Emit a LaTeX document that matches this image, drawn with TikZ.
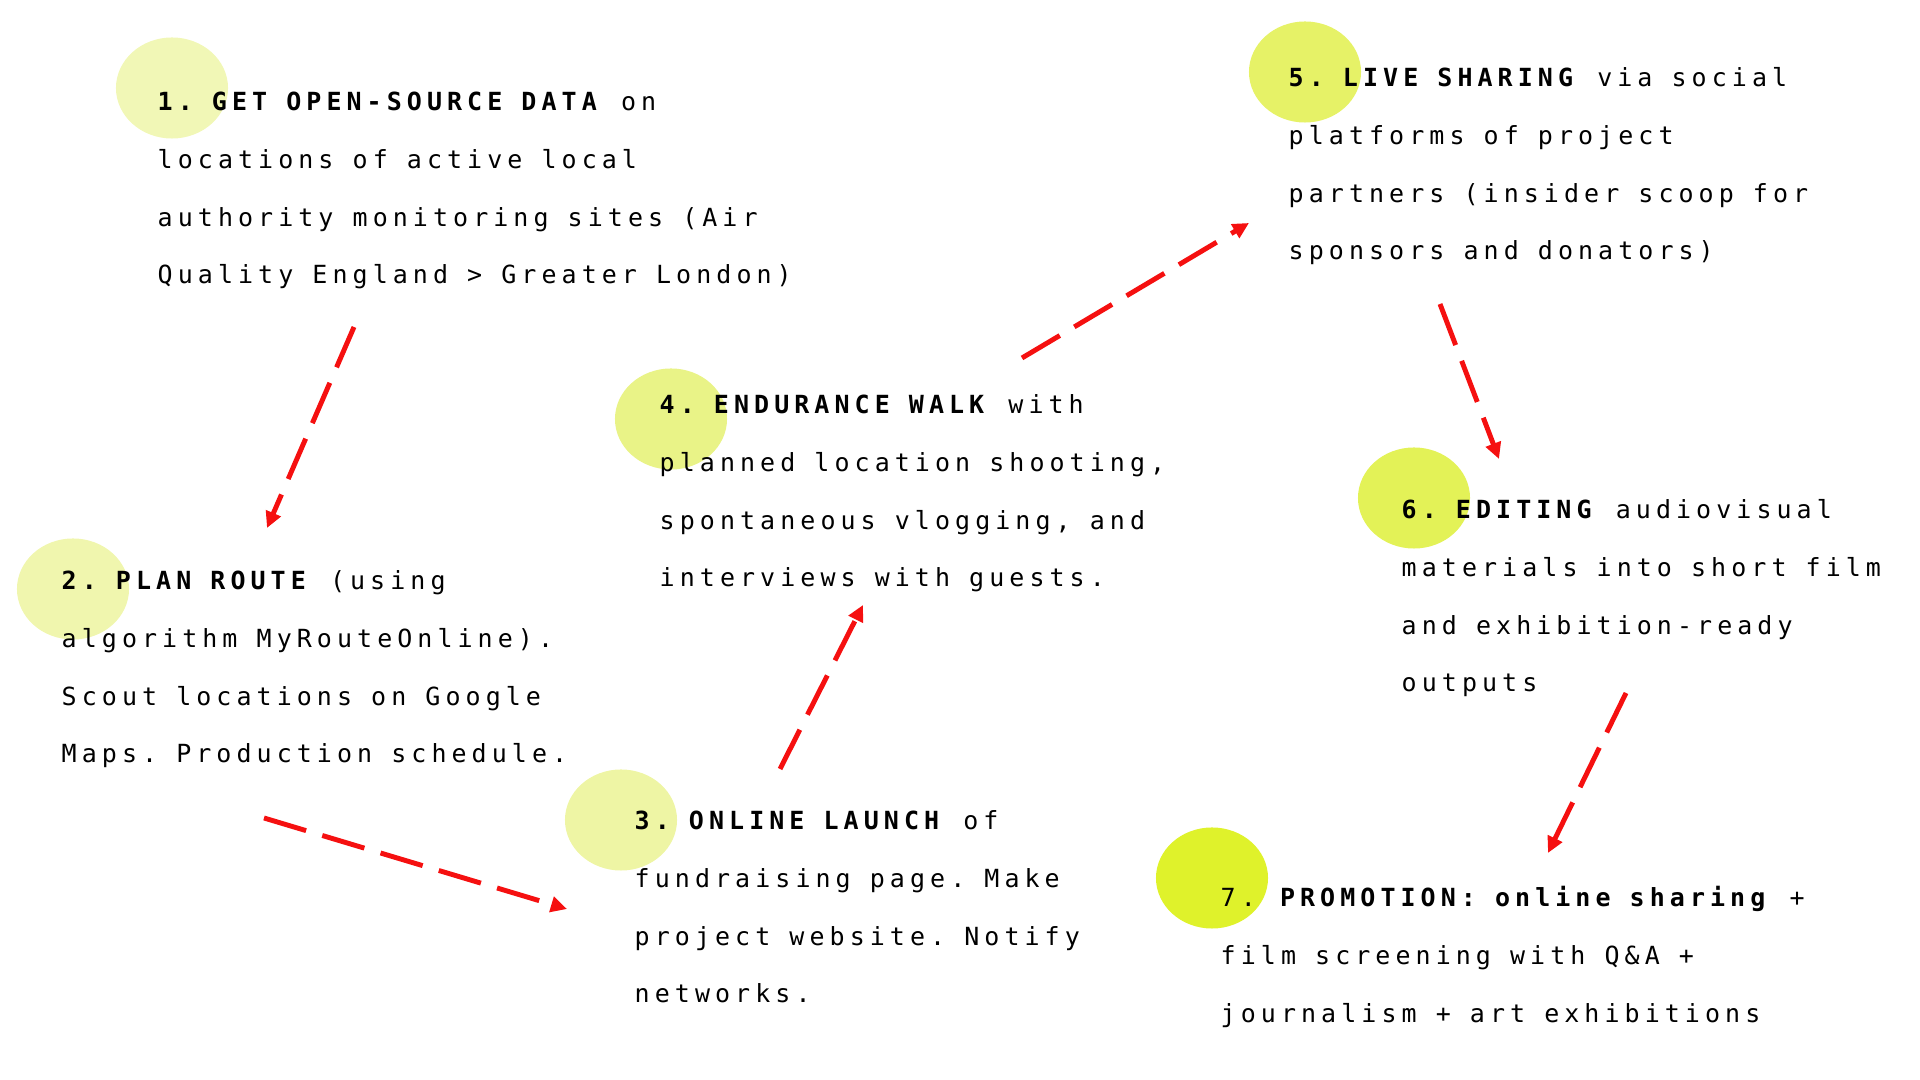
\documentclass[tikz,border=0pt]{standalone}
\usepackage{fontspec}
\usetikzlibrary{arrows.meta,shapes.geometric}
\newfontfamily\stepfont[LetterSpace=20.3]{DejaVu Sans Mono}
\newcommand\stepspacing{\spaceskip=5.44pt\relax\xspaceskip=5.44pt\relax}
\definecolor{dotA}{HTML}{F1F7B6}
\definecolor{dotB}{HTML}{F0F6AE}
\definecolor{dotC}{HTML}{EEF5A4}
\definecolor{dotD}{HTML}{E9F387}
\definecolor{dotE}{HTML}{E6F267}
\definecolor{dotF}{HTML}{E3F257}
\definecolor{dotG}{HTML}{DFF22B}
\definecolor{flow}{HTML}{F51010}
\tikzset{
  dot/.style={ellipse, minimum width=1.12cm, minimum height=1.01cm, inner sep=0pt, draw=none},
  steptext/.style={anchor=base west, inner sep=0pt, text width=8cm, align=left,
    font=\stepfont\fontsize{7.1}{16.36}\selectfont,
    execute at begin node=\stepspacing},
  flowarrow/.style={draw=flow, line width=1.4pt, dash pattern=on 12.5pt off 4.8pt,
    -{Triangle[length=4.6pt,width=4.4pt]}}
}
\begin{document}
\begin{tikzpicture}[x=0.01cm, y=-0.01cm]
\useasboundingbox (0,0) rectangle (1920,1080);

% highlight dots behind the step numbers
\node[dot, fill=dotA] (c1) at (172,88) {};
\node[dot, fill=dotB] (c2) at (73,589) {};
\node[dot, fill=dotC] (c3) at (621,820) {};
\node[dot, fill=dotD] (c4) at (671,419) {};
\node[dot, fill=dotE] (c5) at (1305,72) {};
\node[dot, fill=dotF] (c6) at (1414,498) {};
\node[dot, fill=dotG] (c7) at (1212,878) {};

% step descriptions
\node[steptext] (t1) at (157,111) {\textbf{1. GET OPEN-SOURCE DATA} on\\locations of active local\\authority monitoring sites (Air\\Quality England > Greater London)};
\node[steptext] (t2) at (61,590) {\textbf{2. PLAN ROUTE} (using\\algorithm MyRouteOnline).\\Scout locations on Google\\Maps. Production schedule.};
\node[steptext] (t3) at (634,830) {\textbf{3. ONLINE LAUNCH} of\\fundraising page. Make\\project website. Notify\\networks.};
\node[steptext] (t4) at (659,414) {\textbf{4. ENDURANCE WALK} with\\planned location shooting,\\spontaneous vlogging, and\\interviews with guests.};
\node[steptext] (t5) at (1288,87) {\textbf{5. LIVE SHARING} via social\\platforms of project\\partners (insider scoop for\\sponsors and donators)};
\node[steptext] (t6) at (1401,519) {\textbf{6. EDITING} audiovisual\\materials into short film\\and exhibition-ready\\outputs};
\node[steptext] (t7) at (1220,907) {7. \textbf{PROMOTION: online sharing} +\\film screening with Q\&A +\\journalism + art exhibitions};

% connector ends
\coordinate (a1s) at (354,327); \coordinate (a1e) at (267,528);
\coordinate (a2s) at (264,818); \coordinate (a2e) at (567,909);
\coordinate (a3s) at (780,769); \coordinate (a3e) at (863,605);
\coordinate (a4s) at (1022,358); \coordinate (a4e) at (1249,223);
\coordinate (a5s) at (1440,304); \coordinate (a5e) at (1499,459);
\coordinate (a6s) at (1626,693); \coordinate (a6e) at (1548,853);

\draw[flowarrow] (a1s) -- (a1e);
\draw[flowarrow] (a2s) -- (a2e);
\draw[flowarrow] (a3s) -- (a3e);
\draw[flowarrow] (a4s) -- (a4e);
\draw[flowarrow] (a5s) -- (a5e);
\draw[flowarrow] (a6s) -- (a6e);
\end{tikzpicture}
\end{document}
